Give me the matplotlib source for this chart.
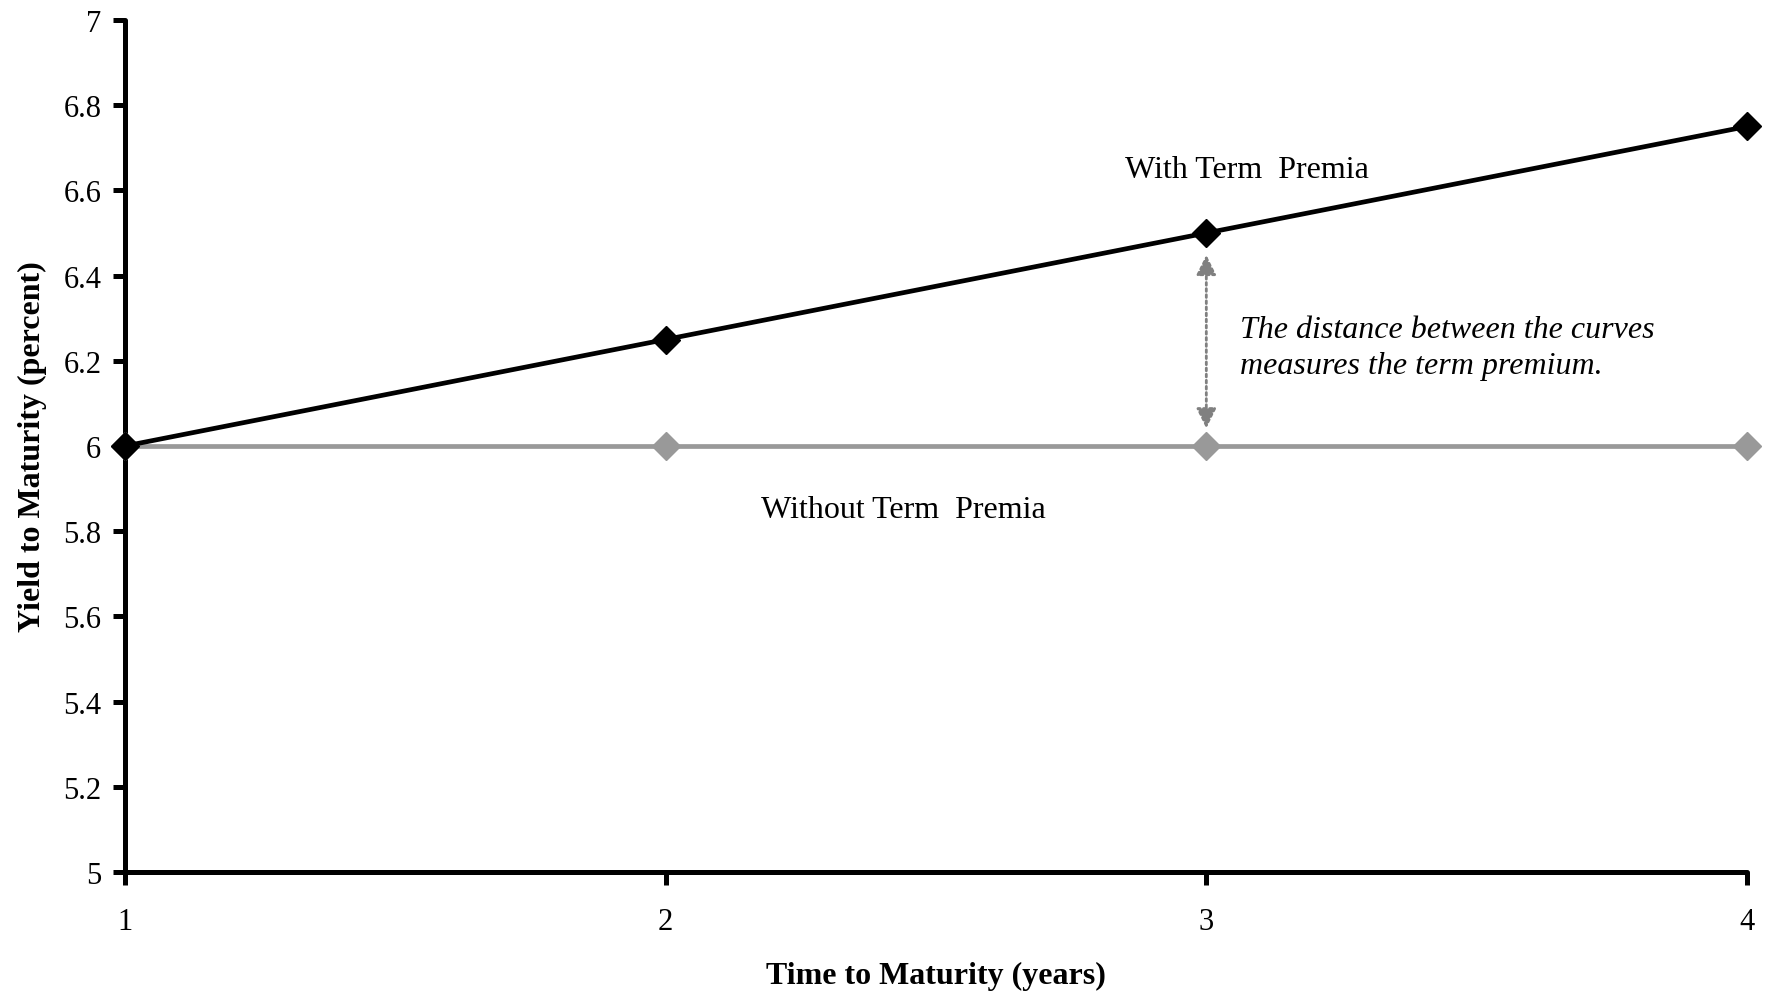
import matplotlib
matplotlib.use("Agg")
import matplotlib.pyplot as plt

# yield curves, percent
maturity = [1, 2, 3, 4]
with_premia = [6.0, 6.25, 6.5, 6.75]
without_premia = [6.0, 6.0, 6.0, 6.0]
yticks = [5, 5.2, 5.4, 5.6, 5.8, 6, 6.2, 6.4, 6.6, 6.8, 7]

plt.rcParams['font.family'] = ['Liberation Serif', 'DejaVu Serif']

fig = plt.figure(figsize=(17.7, 9.95), dpi=100)
ax = fig.add_axes([0.0706, 0.1226, 0.9164, 0.8563])

grey = '#999999'
ax.plot(maturity, without_premia, color=grey, lw=3.4, marker='D', ms=14,
        mec=grey, mfc=grey, zorder=3, clip_on=False)
ax.plot(maturity, with_premia, color='black', lw=3.4, marker='D', ms=14,
        mec='black', mfc='black', zorder=4, clip_on=False)

# arrow between the curves at year 3
ax.annotate('', xy=(3, 6.035), xytext=(3, 6.455),
            arrowprops=dict(arrowstyle='<|-|>', color='#808080', lw=2,
                            ls=(0, (1, 1.2)), mutation_scale=30))

ax.text(3.075, 6.648, 'With Term  Premia', fontsize=23, ha='center', va='center')
ax.text(2.439, 5.852, 'Without Term  Premia', fontsize=23, ha='center', va='center')
ax.text(3.062, 6.232, 'The distance between the curves\nmeasures the term premium.',
        fontsize=23, style='italic', ha='left', va='center', linespacing=1.32)

ax.set_xlim(1, 4)
ax.set_ylim(5, 7)
ax.set_xticks(maturity)
ax.set_yticks(yticks)
ax.set_yticklabels([f'{v:g}' for v in yticks])

for side in ['top', 'right']:
    ax.spines[side].set_visible(False)
for side in ['left', 'bottom']:
    ax.spines[side].set_linewidth(3.6)
    ax.spines[side].set_capstyle('round')

ax.tick_params(axis='y', direction='out', length=9, width=3.6, pad=8, labelsize=22)
ax.tick_params(axis='x', direction='out', length=9, width=3.6, pad=16, labelsize=22)

ax.set_xlabel('Time to Maturity (years)', fontsize=23, fontweight='bold', labelpad=18)
ax.set_ylabel('Yield to Maturity (percent)', fontsize=23, fontweight='bold', labelpad=12)

fig.savefig('out.png', dpi=100)
